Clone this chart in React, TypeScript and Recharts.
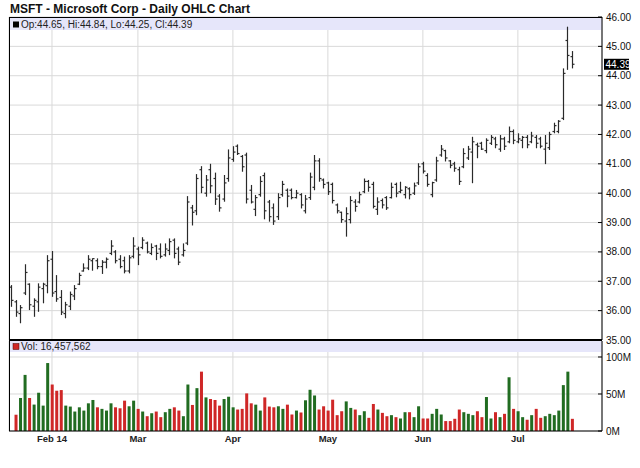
import React from 'react';
import { ComposedChart, Bar, XAxis, YAxis, CartesianGrid, ReferenceArea, ReferenceLine } from 'recharts';

const FONT = '"Liberation Sans", Arial, Helvetica, sans-serif';

const opens = [
  36.80, 36.30, 35.90, 36.60, 36.90, 36.15, 36.30, 36.75, 36.85, 37.75,
  36.65, 36.45, 35.90, 36.15, 36.50, 36.90, 37.35, 37.45, 37.70, 37.70,
  37.50, 37.65, 37.95, 38.00, 37.75, 37.70, 37.35, 37.85, 38.10, 38.15,
  38.30, 37.95, 38.20, 38.10, 37.90, 38.05, 38.40, 38.10, 37.90, 38.30,
  39.50, 39.40, 40.80, 40.00, 40.80, 40.50, 39.90, 39.80, 40.50, 41.15,
  41.60, 41.25, 41.30, 40.10, 39.45, 39.95, 40.60, 39.70, 39.50, 39.20,
  39.95, 40.10, 40.10, 39.85, 39.95, 39.40, 39.85, 40.20, 41.10, 40.45,
  40.35, 40.30, 39.60, 39.35, 39.05, 39.10, 39.70, 39.70, 40.05, 40.40,
  40.30, 39.45, 39.75, 39.85, 39.85, 40.30, 40.05, 39.95, 40.15, 40.00,
  40.35, 41.00, 40.60, 39.95, 40.45, 41.30, 41.45, 41.10, 41.00, 40.80,
  40.90, 41.20, 41.40, 41.65, 41.70, 41.45, 41.70, 41.85, 41.50, 41.85,
  41.75, 42.10, 41.75, 41.80, 41.90, 41.75, 41.90, 41.85, 41.50, 41.55,
  42.10, 42.10, 42.55, 45.20, 44.65,
];

const highs = [
  36.87, 36.36, 36.19, 37.58, 36.93, 36.42, 36.93, 36.95, 37.89, 38.03,
  37.21, 36.70, 36.30, 36.65, 36.87, 37.29, 37.61, 37.89, 37.78, 37.78,
  37.72, 37.81, 38.40, 38.06, 37.89, 37.84, 37.89, 38.50, 38.18, 38.50,
  38.35, 38.29, 38.24, 38.29, 38.29, 38.46, 38.46, 38.18, 38.29, 39.90,
  39.60, 40.65, 40.92, 40.62, 41.00, 40.70, 39.97, 40.62, 41.49, 41.60,
  41.66, 41.30, 41.38, 40.28, 39.94, 40.58, 40.70, 39.77, 39.65, 40.00,
  40.42, 40.16, 40.16, 40.11, 40.00, 39.94, 40.70, 41.30, 41.19, 40.50,
  40.39, 40.36, 39.65, 39.37, 39.52, 39.90, 39.79, 40.05, 40.50, 40.45,
  40.39, 39.86, 39.82, 39.90, 40.36, 40.36, 40.39, 40.24, 40.20, 40.36,
  41.02, 41.07, 40.68, 40.39, 41.24, 41.64, 41.48, 41.13, 41.07, 40.90,
  41.53, 41.61, 41.92, 41.72, 41.75, 41.87, 41.98, 41.92, 41.98, 41.92,
  42.27, 42.17, 42.04, 41.95, 41.98, 42.09, 41.98, 41.92, 41.98, 42.09,
  42.40, 42.49, 44.25, 45.67, 44.84,
];

const lows = [
  36.13, 35.79, 35.57, 36.53, 36.02, 35.79, 35.96, 36.25, 36.59, 36.47,
  36.30, 35.85, 35.74, 36.02, 36.36, 36.87, 37.33, 37.38, 37.36, 37.41,
  37.25, 37.44, 37.89, 37.61, 37.44, 37.27, 37.27, 37.78, 37.55, 38.09,
  37.95, 37.89, 37.72, 37.78, 37.84, 37.89, 37.78, 37.55, 37.84, 38.23,
  38.90, 39.25, 40.00, 39.88, 40.00, 39.60, 39.37, 39.71, 40.39, 41.07,
  41.30, 40.73, 39.65, 39.65, 39.22, 39.88, 39.11, 39.03, 38.92, 39.09,
  39.88, 39.52, 39.79, 39.82, 39.48, 39.31, 39.77, 40.10, 40.39, 40.16,
  39.94, 39.65, 39.31, 38.99, 38.52, 38.97, 39.37, 39.65, 40.00, 40.05,
  39.48, 39.26, 39.48, 39.43, 39.82, 39.86, 40.00, 39.82, 39.79, 39.94,
  40.28, 40.67, 40.22, 39.86, 40.39, 41.24, 41.08, 40.85, 40.73, 40.28,
  40.85, 41.13, 40.34, 41.19, 41.47, 41.36, 41.64, 41.53, 41.41, 41.47,
  41.70, 41.67, 41.70, 41.53, 41.53, 41.70, 41.53, 41.53, 40.99, 41.47,
  42.04, 42.04, 42.49, 44.20, 44.25,
];

const closes = [
  36.35, 35.95, 36.10, 37.30, 36.20, 36.35, 36.80, 36.90, 37.70, 36.60,
  36.40, 35.95, 36.20, 36.55, 36.75, 37.20, 37.45, 37.75, 37.77, 37.50,
  37.65, 37.75, 38.20, 37.70, 37.50, 37.35, 37.80, 38.20, 37.90, 38.40,
  38.00, 38.15, 37.95, 37.85, 38.10, 38.35, 37.95, 37.65, 38.05, 39.70,
  39.35, 40.50, 40.20, 40.45, 40.25, 39.80, 39.50, 40.35, 41.20, 41.40,
  41.35, 40.90, 39.80, 39.70, 39.85, 40.40, 39.40, 39.20, 39.05, 39.85,
  40.30, 39.90, 39.85, 40.00, 39.60, 39.80, 40.55, 41.10, 40.50, 40.30,
  40.05, 39.75, 39.40, 39.10, 39.30, 39.75, 39.55, 39.95, 40.40, 40.20,
  39.55, 39.70, 39.60, 39.50, 40.20, 40.00, 40.10, 40.20, 39.95, 40.25,
  40.90, 40.75, 40.30, 40.36, 41.10, 41.50, 41.20, 40.95, 40.85, 40.40,
  41.35, 41.50, 41.75, 41.60, 41.50, 41.80, 41.90, 41.65, 41.85, 41.60,
  42.10, 41.80, 41.85, 41.90, 41.65, 41.95, 41.70, 41.60, 41.70, 42.00,
  42.30, 42.45, 44.08, 44.69, 44.39,
];

// volume in millions of shares (first session has no volume bar)
const volumes: (number | null)[] = [
  null, 22.0, 44.6, 75.8, 44.6, 35.7, 51.7, 34.3, 91.8, 62.8,
  54.4, 55.3, 34.3, 33.0, 26.3, 32.0, 27.6, 37.4, 41.9, 32.0,
  29.9, 27.6, 37.4, 32.0, 30.7, 41.0, 33.4, 41.0, 29.9, 26.3,
  20.0, 24.0, 26.3, 18.7, 25.4, 29.9, 32.0, 27.6, 20.0, 62.8,
  35.2, 57.9, 80.2, 45.4, 43.2, 41.9, 34.3, 43.2, 46.3, 32.0,
  29.0, 29.9, 50.8, 37.4, 35.6, 27.6, 45.4, 33.0, 32.0, 33.4,
  29.9, 35.6, 22.3, 27.6, 25.0, 41.5, 55.7, 48.0, 29.0, 33.4,
  27.6, 42.3, 21.4, 26.7, 40.0, 31.2, 29.0, 21.4, 26.7, 17.8,
  36.5, 29.0, 24.5, 20.0, 21.4, 18.7, 16.9, 25.4, 25.4, 18.7,
  33.4, 16.9, 16.9, 23.2, 29.9, 22.3, 13.4, 13.4, 16.5, 29.0,
  25.4, 23.2, 21.4, 26.7, 18.7, 45.9, 16.9, 25.4, 18.7, 23.2,
  72.6, 29.9, 26.7, 18.7, 15.2, 21.4, 29.9, 17.8, 20.0, 23.2,
  21.4, 27.6, 62.0, 80.2, 16.457562,
];

const monthTicks = [9, 28, 49, 70, 91, 112];
const monthLabels = ['Feb 14', 'Mar', 'Apr', 'May', 'Jun', 'Jul'];
const priceTicks = [35, 36, 37, 38, 39, 40, 41, 42, 43, 44, 45, 46];
const volumeTicks = [0, 50, 100];

const rows = highs.map((h, i) => ({
  i,
  open: opens[i],
  high: h,
  low: lows[i],
  close: closes[i],
  vol: volumes[i],
  up: i > 0 ? closes[i] >= closes[i - 1] : true,
}));

const last = rows[rows.length - 1];
const X_DOMAIN: [number, number] = [-0.5, 130.6];
const GREEN = '#216c21';
const RED = '#cf2727';

const OhlcShape = (props: any) => {
  const { x, y, width, height, payload } = props;
  if (x == null || y == null || !payload) return null;
  const top = Math.min(y, y + height);
  const bottom = Math.max(y, y + height);
  const cx = Math.round(x + width / 2) + 0.5;
  const span = payload.high - payload.low;
  const toY = (v: number) => (span > 0 ? top + ((payload.high - v) / span) * (bottom - top) : top);
  const oy = toY(payload.open);
  const cy = toY(payload.close);
  return (
    <g stroke="#2a2a2a" strokeWidth={1.2}>
      <line x1={cx} x2={cx} y1={top} y2={bottom} />
      <line x1={cx - 2} x2={cx} y1={oy} y2={oy} />
      <line x1={cx} x2={cx + 2} y1={cy} y2={cy} />
    </g>
  );
};

const VolShape = (props: any) => {
  const { x, y, width, height, payload } = props;
  if (x == null || y == null || !payload || payload.vol == null) return null;
  const top = Math.min(y, y + height);
  const h = Math.abs(height);
  return <rect x={x} y={top} width={width} height={h} fill={payload.up ? GREEN : RED} />;
};

const PriceTag = (props: any) => {
  const vb = props.viewBox || {};
  const x = (vb.x || 0) + (vb.width || 0);
  const y = vb.y || 0;
  return (
    <g>
      <rect x={x + 2} y={y - 5.5} width={25} height={11} fill="#000" />
      <text x={x + 3.5} y={y + 3.5} fill="#fff" fontSize={10} fontFamily={FONT}>
        {last.close.toFixed(2)}
      </text>
    </g>
  );
};

const axisTick = { fontSize: 10, fill: '#111', fontFamily: FONT };

export default function App() {
  const ohlcText = `Op:${last.open.toFixed(2)}, Hi:${last.high.toFixed(2)}, Lo:${last.low.toFixed(2)}, Cl:${last.close.toFixed(2)}`;
  const volText = `Vol: ${Math.round((last.vol as number) * 1e6).toLocaleString('en-US')}`;
  return (
    <div style={{ position: 'absolute', left: 0, top: 0, width: 640, height: 468, background: '#fff', overflow: 'hidden' }}>
      <div style={{ position: 'absolute', left: 0, top: 340 }}>
        <ComposedChart width={640} height={128} data={rows} margin={{ top: 1, right: 0, bottom: 0, left: 9 }}>
          <CartesianGrid stroke="#d9d9d9" strokeWidth={1} />
          <XAxis
            type="number"
            dataKey="i"
            domain={X_DOMAIN}
            ticks={monthTicks}
            allowDataOverflow
            interval={0}
            height={37}
            axisLine={{ stroke: '#000' }}
            tickLine={false}
            tickSize={4}
            tickMargin={0}
            tickFormatter={(v: number) => monthLabels[monthTicks.indexOf(v)] ?? ''}
            tick={{ fontSize: 9.5, fontWeight: 'bold', fill: '#222', fontFamily: FONT }}
          />
          <YAxis
            orientation="right"
            width={38}
            domain={[0, 121.6]}
            ticks={volumeTicks}
            allowDataOverflow
            tickFormatter={(v: number) => `${v}M`}
            axisLine={{ stroke: '#000' }}
            tickLine={{ stroke: '#000' }}
            tickSize={-4}
            tickMargin={8}
            tick={axisTick}
            interval={0}
          />
          <ReferenceArea y1={121.6} y2={106.7} fill="#e6e6fa" fillOpacity={1} stroke="none" />
          <Bar dataKey="vol" barSize={3} shape={VolShape} isAnimationActive={false} />
        </ComposedChart>
      </div>
      <div style={{ position: 'absolute', left: 0, top: 0 }}>
        <ComposedChart width={640} height={350} data={rows} margin={{ top: 17, right: 0, bottom: 10, left: 9 }}>
          <CartesianGrid stroke="#d9d9d9" strokeWidth={1} />
          <XAxis type="number" dataKey="i" domain={X_DOMAIN} ticks={monthTicks} hide allowDataOverflow />
          <YAxis
            orientation="right"
            width={38}
            domain={[35, 46]}
            ticks={priceTicks}
            allowDataOverflow
            tickFormatter={(v: number) => v.toFixed(2)}
            axisLine={{ stroke: '#000' }}
            tickLine={{ stroke: '#000' }}
            tickSize={-4}
            tickMargin={8}
            tick={axisTick}
            interval={0}
          />
          <ReferenceArea y1={46} y2={45.56} fill="#e6e6fa" fillOpacity={1} stroke="none" />
          <Bar dataKey={(d: any) => [d.low, d.high]} barSize={5} shape={OhlcShape} isAnimationActive={false} />
          <ReferenceLine y={last.close} stroke="none" label={<PriceTag />} />
        </ComposedChart>
      </div>
      <svg width={640} height={468} style={{ position: 'absolute', left: 0, top: 0, pointerEvents: 'none' }}>
        <text x={10} y={13} fontSize={12} fontWeight="bold" fill="#111" fontFamily={FONT}>
          MSFT - Microsoft Corp - Daily OHLC Chart
        </text>
        <line x1={9} x2={602} y1={17.5} y2={17.5} stroke="#000" strokeWidth={1} />
        <line x1={9.5} x2={9.5} y1={17} y2={431} stroke="#000" strokeWidth={1} />
        <line x1={9} x2={602} y1={340} y2={340} stroke="#000" strokeWidth={2} />
        <rect x={13} y={21.5} width={6} height={6} fill="#000" />
        <text x={21} y={28} fontSize={10} fill="#222" fontFamily={FONT}>{ohlcText}</text>
        <rect x={13} y={343.5} width={6} height={6} fill={RED} stroke="#400" strokeWidth={0.5} />
        <text x={21} y={350} fontSize={10} fill="#222" fontFamily={FONT}>{volText}</text>
      </svg>
    </div>
  );
}
